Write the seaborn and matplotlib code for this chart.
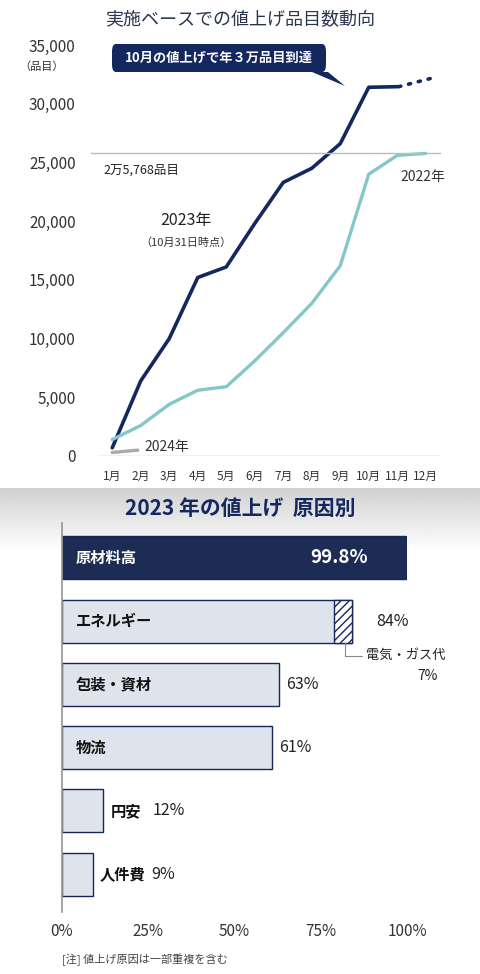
import numpy as np
import matplotlib.pyplot as plt
import seaborn as sns
from matplotlib.patches import FancyBboxPatch, Polygon

sns.set_theme(style="white")
plt.rcParams['font.family'] = ['Noto Sans CJK JP', 'DejaVu Sans']

NAVY = "#14285e"
TEAL = "#84c7c9"
LIGHT = "#dde3ee"

months = ["1月", "2月", "3月", "4月", "5月", "6月", "7月", "8月", "9月", "10月", "11月", "12月"]
y2023 = [700, 6400, 10000, 15200, 16100, 19800, 23300, 24500, 26600, 31400, 31450]
y2023_proj = [31450, 32200]
y2022 = [1400, 2600, 4400, 5600, 5900, 8100, 10500, 13000, 16200, 24000, 25600, 25768]
y2024 = [300, 500]

causes = ["原材料高", "エネルギー", "包装・資材", "物流", "円安", "人件費"]
shares = [99.8, 84, 63, 61, 12, 9]
elec_share = 7
pct_labels = ["99.8%", "84%", "63%", "61%", "12%", "9%"]

fig = plt.figure(figsize=(4.8, 9.74), dpi=100)
W, H = 480, 974

def ax_rect(x0, y0, x1, y1):
    return [x0 / W, 1 - y1 / H, (x1 - x0) / W, (y1 - y0) / H]

# ---------- top: line chart ----------
ax = fig.add_axes(ax_rect(98, 45, 440, 456))
x = np.arange(12)
sns.lineplot(x=x[:11], y=y2023, ax=ax, color=NAVY, lw=2.6)
sns.lineplot(x=x[10:12] + np.array([0.05, 0.25]), y=y2023_proj, ax=ax, color=NAVY,
             lw=2.6, linestyle=(0, (0.6, 2.2)), dash_capstyle="round")
sns.lineplot(x=x, y=y2022, ax=ax, color=TEAL, lw=2.4)
sns.lineplot(x=x[:2] - np.array([0, 0.1]), y=y2024, ax=ax, color="#aaaaaa", lw=2.4)
ax.axhline(25768, color="#bbbbbb", lw=1, xmin=-0.02, xmax=1.0, clip_on=False)
ax.axhline(0, color="#bbbbbb", lw=1)
ax.set_xlim(-0.5, 11.5)
ax.set_ylim(0, 35000)
ax.set_yticks(range(0, 35001, 5000))
ax.set_yticklabels([f"{v:,}" for v in range(0, 35001, 5000)], fontsize=11, color="#333333")
ax.set_xticks(x)
ax.set_xticklabels(months, fontsize=8.5, color="#333333")
ax.tick_params(axis="x", pad=10, length=0)
ax.tick_params(axis="y", length=0, pad=16)
sns.despine(ax=ax, left=True, bottom=True)
ax.text(-0.1, 0.94, "（品目）", transform=ax.transAxes, ha="right", fontsize=8, color="#333333")
ax.text(-0.3, 25768 - 900, "2万5,768品目", fontsize=9, va="top", color="#222222")
ax.text(2.6, 19700, "2023年", fontsize=11.5, ha="center", color="#222222")
ax.text(2.6, 17900, "（10月31日時点）", fontsize=8, ha="center", color="#333333")
ax.text(10.9, 23400, "2022年", fontsize=10, ha="center", color="#333333")
ax.text(1.9, 400, "2024年", fontsize=10, ha="center", color="#333333")
fig.text(240 / W, 1 - 20 / H, "実施ベースでの値上げ品目数動向", ha="center", va="center",
         fontsize=13, color="#2a3550")
# callout
box = FancyBboxPatch((112 / W, 1 - 72 / H), 214 / W, 28 / H, boxstyle="round,pad=0,rounding_size=0.008",
                     transform=fig.transFigure, fc=NAVY, ec="none")
fig.patches.append(box)
fig.patches.append(Polygon([(312 / W, 1 - 72 / H), (328 / W, 1 - 72 / H), (345 / W, 1 - 86 / H)],
                           closed=True, transform=fig.transFigure, fc=NAVY, ec="none"))
fig.text(219 / W, 1 - 58 / H, "10月の値上げで年３万品目到達", ha="center", va="center",
         fontsize=9.5, color="white", fontweight="bold")

# ---------- bottom: bar chart ----------
bg = fig.add_axes([0, 0, 1, 1 - 488 / H], zorder=-1)
grad = np.linspace(0.82, 1, 60).reshape(-1, 1)
grad = np.vstack([grad, np.ones((400, 1))])
bg.imshow(grad, cmap="gray", vmin=0, vmax=1, aspect="auto", extent=[0, 1, 0, 1])
bg.axis("off")
fig.text(240 / W, 1 - 508 / H, "2023 年の値上げ  原因別", ha="center", va="center",
         fontsize=15, color=NAVY, fontweight="bold")

bx = fig.add_axes(ax_rect(62, 523, 407, 912))
colors = [NAVY] + [LIGHT] * 5
sns.barplot(x=shares, y=causes, hue=causes, palette=colors, legend=False, ax=bx,
            width=0.68, edgecolor=NAVY, linewidth=1)
bx.barh(1, elec_share * 0.75, left=shares[1] - elec_share * 0.75, height=0.68,
        color="white", edgecolor=NAVY, hatch="////", linewidth=1)
bx.set_xlim(0, 100)
bx.set_ylim(5.6, -0.55)
bx.set_xticks([0, 25, 50, 75, 100])
bx.set_xticklabels(["0%", "25%", "50%", "75%", "100%"], fontsize=11, color="#333333")
bx.set_yticks([])
bx.set_ylabel("")
bx.tick_params(axis="x", length=0, pad=8)
sns.despine(ax=bx, bottom=True, right=True, top=True)
bx.spines["left"].set_color("#999999")
bx.patch.set_alpha(0)
for i, (c, s, lab) in enumerate(zip(causes, shares, pct_labels)):
    tc = "white" if i == 0 else "#111111"
    if i < 4:
        bx.text(4, i, c, va="center", fontsize=11, color=tc, fontweight="bold")
    else:
        bx.text(s + 2, i, c, va="center", fontsize=11, color=tc, fontweight="bold")
    if i == 0:
        bx.text(72, i, lab, va="center", fontsize=13.5, color="white", fontweight="bold")
    elif i == 1:
        bx.text(91, i, lab, va="center", fontsize=11.5, color="#222222")
    elif i < 4:
        bx.text(s + 2, i, lab, va="center", fontsize=11.5, color="#222222")
    else:
        bx.text(s + 25 - s * 0.9, i, lab, va="center", fontsize=11.5, color="#222222")
bx.plot([82, 82, 87], [1.34, 1.55, 1.55], color="#888888", lw=0.8)
bx.text(88, 1.55, "電気・ガス代", va="center", fontsize=9.5, color="#222222")
bx.text(106, 1.87, "7%", va="center", ha="center", fontsize=10, color="#222222")
fig.text(62 / W, 1 - 963 / H, "[注] 値上げ原因は一部重複を含む", fontsize=8, color="#444444")

fig.savefig("out.png", dpi=100)
